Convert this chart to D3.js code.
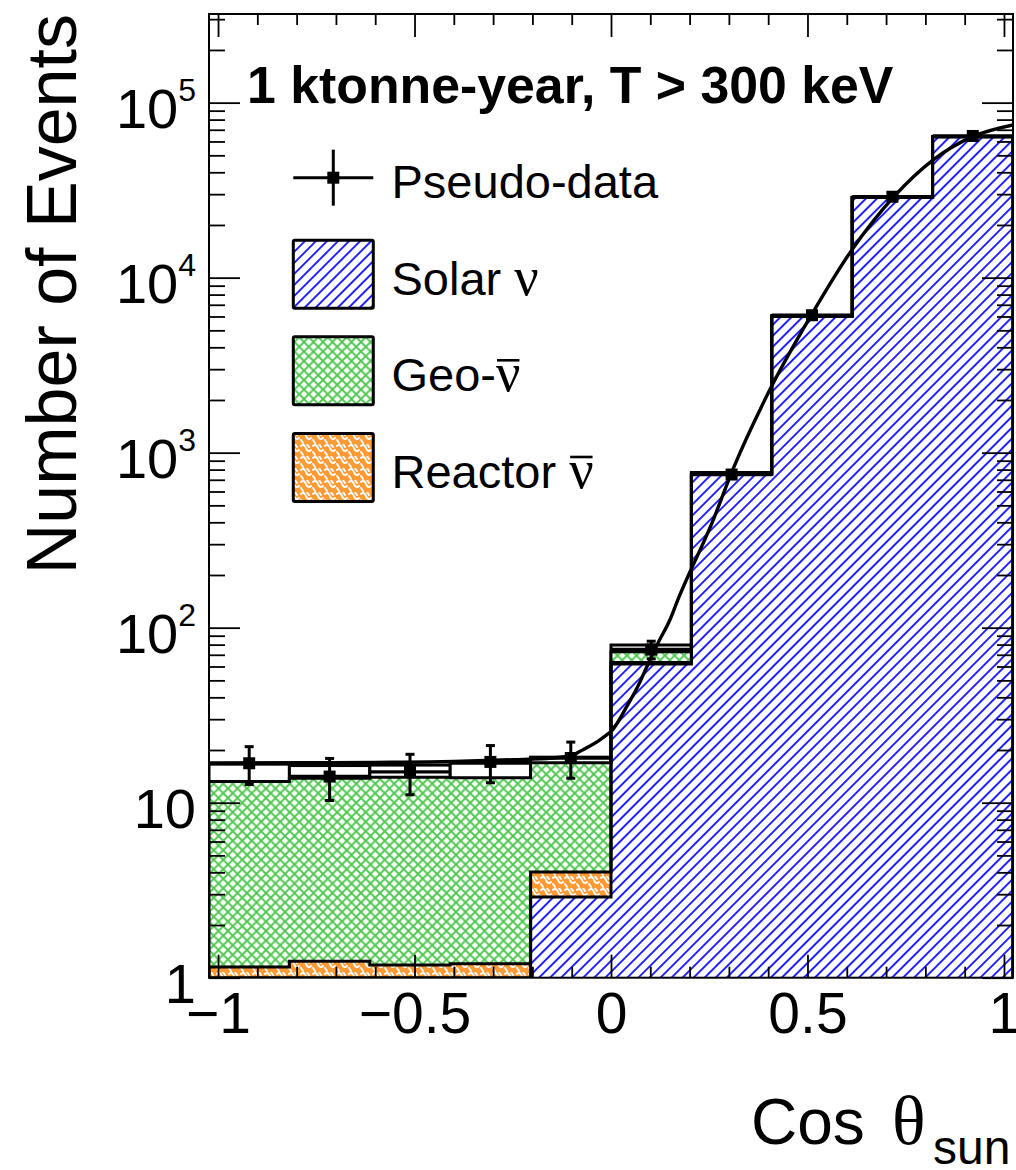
<!DOCTYPE html>
<html>
<head>
<meta charset="utf-8">
<script src="https://cdn.jsdelivr.net/npm/d3@7"></script>
<style>
  html, body { margin: 0; padding: 0; background: #fff; }
  svg { display: block; }
</style>
</head>
<body>
<svg id="chart" width="1016" height="1170"></svg>
<script>
// ---- data -------------------------------------------------------------
// histogram bin edges along cos(theta_sun)
const binEdges = [-1.023, -0.8184, -0.6138, -0.4092, -0.2046, 0, 0.2046, 0.4092, 0.6138, 0.8184, 1.023];

// stacked expectations per bin (events)
const solarNu   = [0, 0, 0, 0, 2.89, 62.0, 752, 6027, 28690, 63890];
const reactorNu = [1.15, 1.24, 1.18, 1.20, 1.13, 1.2, 1.2, 1.2, 1.2, 1.2];
const geoNu     = [12.05, 12.56, 12.8, 12.7, 12.9, 9.7, 12, 12, 12, 12];

// total of the fitted model per bin (hollow boxes)
const fitTotal  = [16.6, 16.3, 16.4, 16.8, 18.2, 79.6, 770, 6060, 28800, 64000];

// pseudo-data with statistical errors
const pseudoData = [16.8, 14.1, 15.0, 17.1, 18.0, 75, 750, 6100, 29000, 64500];
const pseudoErr  = [4.1, 3.8, 3.9, 4.1, 4.2, 8.7, 27, 78, 170, 254];

// fitted angular distribution
const fitCos = [-1.023, -0.8, -0.6, -0.4, -0.25, -0.15, -0.097, -0.08, -0.029, -0.011, 0,
                0.04, 0.07, 0.09, 0.12, 0.15, 0.17, 0.26, 0.31, 0.40, 0.51, 0.61, 0.72, 0.82, 0.92, 1.023];
const fitVal = [16.8, 16.9, 17.0, 17.2, 17.6, 18.0, 18.7, 19.6, 22.8, 24.4, 25.5,
                35.4, 47, 59, 82, 111, 144, 412, 800, 2190, 6120, 14090, 29040, 47100, 63960, 74600];

// axis ticks and labels
const xTicksMajor = [-1, -0.5, 0, 0.5, 1];
const xTickLabels = ["\u22121", "\u22120.5", "0", "0.5", "1"];
const yTicksMajor = [1, 10, 100, 1000, 10000, 100000];
const yTickExp    = [0, 1, 2, 3, 4, 5];

const legendEntries = [
  { kind: "data",    prefix: "Pseudo-data", nu: false, bar: false },
  { kind: "solar",   prefix: "Solar ",      nu: true,  bar: false },
  { kind: "geo",     prefix: "Geo-",        nu: true,  bar: true  },
  { kind: "reactor", prefix: "Reactor ",    nu: true,  bar: true  }
];

// ---- layout -----------------------------------------------------------
const frame = { left: 209, right: 1013, top: 14, bottom: 977.7 };
const SANS = "'Liberation Sans', Arial, Helvetica, sans-serif";
const SERIF = "'Liberation Serif', 'Times New Roman', 'DejaVu Serif', serif";
const BLUE = "#0000ff", GREEN = "#4fc84f", ORANGE = "#ff9a35";

const svg = d3.select("#chart");
svg.append("rect").attr("width", 1016).attr("height", 1170).attr("fill", "#fff");

const x = d3.scaleLinear().domain([binEdges[0], binEdges[binEdges.length - 1]]).range([frame.left, frame.right]);
const yMin = 1, yMax = 3.21e5;
const y = d3.scaleLog().domain([yMin, yMax]).range([frame.bottom, frame.top]);
const yc = v => y(Math.max(v, yMin));

// ---- fill patterns ----------------------------------------------------
const defs = svg.append("defs");

const pBlue = defs.append("pattern").attr("id", "hatchSolar")
  .attr("patternUnits", "userSpaceOnUse").attr("width", 7.8).attr("height", 8)
  .attr("patternTransform", "rotate(45)");
pBlue.append("rect").attr("width", 7.8).attr("height", 8).attr("fill", "#fff");
pBlue.append("line").attr("x1", 3.9).attr("x2", 3.9).attr("y1", -1).attr("y2", 9)
  .attr("stroke", BLUE).attr("stroke-width", 1.7);

const gs = 9.5;
const pGreen = defs.append("pattern").attr("id", "hatchGeo")
  .attr("patternUnits", "userSpaceOnUse").attr("width", gs).attr("height", gs);
pGreen.append("rect").attr("width", gs).attr("height", gs).attr("fill", "#fff");
pGreen.append("path").attr("d", `M0,0L${gs},${gs}M0,${gs}L${gs},0`)
  .attr("stroke", GREEN).attr("stroke-width", 1.9).attr("fill", "none");

const os = 12;
const pOrange = defs.append("pattern").attr("id", "hatchReactor")
  .attr("patternUnits", "userSpaceOnUse").attr("width", os).attr("height", os);
pOrange.append("rect").attr("width", os).attr("height", os).attr("fill", ORANGE);
pOrange.append("path")
  .attr("d", "M1,2 Q3,0 5,2 L7,6 Q9,8 11,6 M1,8 L3,11 M7,0 L9,3")
  .attr("stroke", "#fff").attr("stroke-width", 1.9).attr("fill", "none").attr("stroke-linecap", "round");

defs.append("clipPath").attr("id", "frameClip").append("rect")
  .attr("x", frame.left).attr("y", frame.top)
  .attr("width", frame.right - frame.left).attr("height", frame.bottom - frame.top);

const plot = svg.append("g").attr("clip-path", "url(#frameClip)");

// ---- fitted total: hollow boxes per bin -------------------------------
plot.append("g").selectAll("rect").data(fitTotal).join("rect")
  .attr("x", (d, i) => x(binEdges[i]))
  .attr("width", (d, i) => x(binEdges[i + 1]) - x(binEdges[i]))
  .attr("y", d => yc(d))
  .attr("height", d => frame.bottom - yc(d))
  .attr("fill", "#fff").attr("stroke", "#000").attr("stroke-width", 3);

// ---- stacked histogram: solar (bottom), reactor, geo (top) ------------
const cumSolar   = solarNu.slice();
const cumReactor = solarNu.map((v, i) => v + reactorNu[i]);
const cumGeo     = cumReactor.map((v, i) => v + geoNu[i]);

const stepPts = tops => binEdges.map((e, i) => ({ x: e, v: tops[Math.min(i, tops.length - 1)] }));
const area = d3.area().curve(d3.curveStepAfter)
  .x(d => x(d.x)).y0(frame.bottom).y1(d => yc(d.v));
const outline = d3.line().curve(d3.curveStepAfter)
  .x(d => x(d.x)).y(d => (d.base ? frame.bottom : yc(d.v)));
const outlinePts = tops => {
  const p = stepPts(tops);
  return [{ x: p[0].x, base: true }, ...p, { x: p[p.length - 1].x, base: true }];
};

const layers = [
  { tops: cumGeo,     fill: "url(#hatchGeo)" },
  { tops: cumReactor, fill: "url(#hatchReactor)" },
  { tops: cumSolar,   fill: "url(#hatchSolar)" }
];
layers.forEach(l => {
  plot.append("path").attr("d", area(stepPts(l.tops))).attr("fill", l.fill);
});
layers.forEach(l => {
  plot.append("path").attr("d", outline(outlinePts(l.tops)))
    .attr("fill", "none").attr("stroke", "#000").attr("stroke-width", 3)
    .attr("stroke-linejoin", "miter");
});

// ---- fit curve --------------------------------------------------------
const curve = d3.line().curve(d3.curveMonotoneX).x(d => x(d[0])).y(d => y(d[1]));
plot.append("path").attr("d", curve(fitCos.map((c, i) => [c, fitVal[i]])))
  .attr("fill", "none").attr("stroke", "#000").attr("stroke-width", 3.4);

// ---- pseudo-data ------------------------------------------------------
const gData = plot.append("g");
pseudoData.forEach((v, i) => {
  const x0 = x(binEdges[i]), x1 = x(binEdges[i + 1]), cx = (x0 + x1) / 2, cy = y(v);
  const yHi = y(v + pseudoErr[i]), yLo = y(Math.max(v - pseudoErr[i], yMin));
  gData.append("line").attr("x1", x0).attr("x2", x1).attr("y1", cy).attr("y2", cy)
    .attr("stroke", "#000").attr("stroke-width", 3.4);
  gData.append("line").attr("x1", cx).attr("x2", cx).attr("y1", yHi).attr("y2", yLo)
    .attr("stroke", "#000").attr("stroke-width", 3);
  [yHi, yLo].forEach(yy => gData.append("line").attr("x1", cx - 4.5).attr("x2", cx + 4.5)
    .attr("y1", yy).attr("y2", yy).attr("stroke", "#000").attr("stroke-width", 3));
  gData.append("rect").attr("x", cx - 6).attr("y", cy - 6).attr("width", 12).attr("height", 12).attr("fill", "#000");
});

// ---- label text -------------------------------------------------------
svg.append("text").attr("x", 247).attr("y", 103.3)
  .attr("font-family", SANS).attr("font-weight", "bold").attr("font-size", 51.8)
  .text("1 ktonne-year, T > 300 keV");

// ---- legend -----------------------------------------------------------
const leg = svg.append("g");
const rowY = [177.7, 274.2, 370.8, 467.5];
const boxX0 = 293.3, boxX1 = 373.3, textX = 391.5;
legendEntries.forEach((e, i) => {
  const cy = rowY[i];
  if (e.kind === "data") {
    const cx = (boxX0 + boxX1) / 2;
    leg.append("line").attr("x1", boxX0).attr("x2", boxX1).attr("y1", cy).attr("y2", cy)
      .attr("stroke", "#000").attr("stroke-width", 3);
    leg.append("line").attr("x1", cx).attr("x2", cx).attr("y1", cy - 28).attr("y2", cy + 28)
      .attr("stroke", "#000").attr("stroke-width", 3);
    leg.append("rect").attr("x", cx - 6).attr("y", cy - 6).attr("width", 12).attr("height", 12).attr("fill", "#000");
  } else {
    const fill = { solar: "url(#hatchSolar)", geo: "url(#hatchGeo)", reactor: "url(#hatchReactor)" }[e.kind];
    leg.append("rect").attr("x", boxX0).attr("y", cy - 34).attr("width", boxX1 - boxX0).attr("height", 68)
      .attr("fill", fill).attr("stroke", "#000").attr("stroke-width", 3).attr("rx", 1.5);
  }
  const base = cy + 20.5;
  const t = leg.append("text").attr("x", textX).attr("y", base)
    .attr("font-family", SANS).attr("font-size", 47);
  t.append("tspan").text(e.prefix);
  if (e.nu) {
    t.append("tspan").attr("font-family", SERIF).attr("font-size", 54).text("\u03bd");
    if (e.bar) {
      const r = t.node().getExtentOfChar(e.prefix.length);
      leg.append("line").attr("x1", r.x + 1).attr("x2", r.x + r.width - 1)
        .attr("y1", base - 31).attr("y2", base - 31)
        .attr("stroke", "#000").attr("stroke-width", 2.6);
    }
  }
});

// ---- axes -------------------------------------------------------------
const axes = svg.append("g");
const yMinor = [];
yTicksMajor.forEach(d => { for (let m = 2; m <= 9; m++) if (d * m < yMax) yMinor.push(d * m); });
const xMinor = d3.range(-10, 11).map(k => k / 10).filter(v => Math.abs(v * 2 - Math.round(v * 2)) > 1e-9);

function styleAxis(g) {
  g.select(".domain").remove();
  g.selectAll(".tick line").attr("stroke", "#000").attr("stroke-width", 1.8);
}

// left
axes.append("g").attr("transform", `translate(${frame.left},0)`)
  .call(d3.axisLeft(y).tickValues(yTicksMajor).tickSize(-31).tickPadding(13).tickFormat(() => ""))
  .call(styleAxis)
  .call(g => g.selectAll(".tick text").each(function (d, i) {
    const t = d3.select(this).attr("dy", null).attr("y", 25)
      .attr("font-family", SANS).attr("font-size", 56).attr("fill", "#000");
    const e = yTickExp[i];
    if (e === 0) t.text("1");
    else if (e === 1) t.text("10");
    else {
      t.append("tspan").text("10");
      t.append("tspan").attr("dy", -27).attr("font-size", 32).text(e);
    }
  }));
axes.append("g").attr("transform", `translate(${frame.left},0)`)
  .call(d3.axisLeft(y).tickValues(yMinor).tickSize(-16).tickFormat(() => ""))
  .call(styleAxis);
// right
axes.append("g").attr("transform", `translate(${frame.right},0)`)
  .call(d3.axisRight(y).tickValues(yTicksMajor).tickSize(-31).tickFormat(() => ""))
  .call(styleAxis);
axes.append("g").attr("transform", `translate(${frame.right},0)`)
  .call(d3.axisRight(y).tickValues(yMinor).tickSize(-16).tickFormat(() => ""))
  .call(styleAxis);
// bottom
axes.append("g").attr("transform", `translate(0,${frame.bottom})`)
  .call(d3.axisBottom(x).tickValues(xTicksMajor).tickSize(-23).tickPadding(0).tickFormat((d, i) => xTickLabels[i]))
  .call(styleAxis)
  .call(g => g.selectAll(".tick text").attr("dy", null).attr("y", 55.3)
    .attr("font-family", SANS).attr("font-size", 57).attr("fill", "#000"));
axes.append("g").attr("transform", `translate(0,${frame.bottom})`)
  .call(d3.axisBottom(x).tickValues(xMinor).tickSize(-11).tickFormat(() => ""))
  .call(styleAxis);
// top
axes.append("g").attr("transform", `translate(0,${frame.top})`)
  .call(d3.axisTop(x).tickValues(xTicksMajor).tickSize(-23).tickFormat(() => ""))
  .call(styleAxis);
axes.append("g").attr("transform", `translate(0,${frame.top})`)
  .call(d3.axisTop(x).tickValues(xMinor).tickSize(-11).tickFormat(() => ""))
  .call(styleAxis);

// frame
axes.append("rect").attr("x", frame.left).attr("y", frame.top)
  .attr("width", frame.right - frame.left).attr("height", frame.bottom - frame.top)
  .attr("fill", "none").attr("stroke", "#000").attr("stroke-width", 2);

// axis titles
svg.append("text")
  .attr("transform", `translate(76,${frame.top}) rotate(-90)`)
  .attr("text-anchor", "end").attr("font-family", SANS).attr("font-size", 70)
  .text("Number of Events");

const xt = svg.append("text").attr("y", 1144).attr("font-family", SANS).attr("font-size", 64);
xt.append("tspan").attr("x", 751).text("Cos");
xt.append("tspan").attr("x", 892).attr("font-family", SERIF).attr("font-size", 70).text("\u03b8");
xt.append("tspan").attr("x", 933).attr("dy", 20).attr("font-size", 48).text("sun");
</script>
</body>
</html>
